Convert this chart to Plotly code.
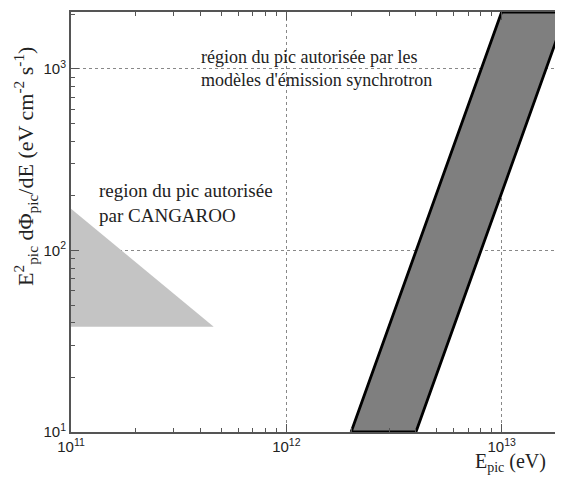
import plotly.graph_objects as go

# CANGAROO allowed region (triangle)
cang_x = [1e11, 1e11, 4.6e11, 1e11]
cang_y = [170, 38, 38, 170]

# synchrotron-model allowed region (parallelogram)
sync_x = [2e12, 4e12, 2e13, 1e13, 2e12]
sync_y = [10, 10, 2060, 2060, 10]

x_tickvals = [1e11, 1e12, 1e13]
x_ticktext = ["10<sup>11</sup>", "10<sup>12</sup>", "10<sup>13</sup>"]
y_tickvals = [10, 100, 1000]
y_ticktext = ["10<sup>1</sup>", "10<sup>2</sup>", "10<sup>3</sup>"]

x_minor = [m * 10 ** e for e in (11, 12, 13) for m in range(2, 10)]
y_minor = [m * 10 ** e for e in (1, 2, 3) for m in range(2, 10)]

serif = "Liberation Serif"
sans = "Liberation Sans"

fig = go.Figure()
fig.add_trace(go.Scatter(x=cang_x, y=cang_y, fill="toself", mode="lines",
                         fillcolor="#c4c4c4", line=dict(width=0, color="#c4c4c4"),
                         showlegend=False, hoverinfo="skip"))
fig.add_trace(go.Scatter(x=sync_x, y=sync_y, fill="toself", mode="lines",
                         fillcolor="#7f7f7f", line=dict(width=2.8, color="black"),
                         showlegend=False, hoverinfo="skip"))


def axis_common(minor_vals):
    return dict(
        showline=True, linecolor="#555555", linewidth=2, mirror="allticks",
        ticks="inside", ticklen=8, tickcolor="#555555", tickwidth=1,
        showgrid=True, gridcolor="#888888", griddash="dot", gridwidth=1,
        zeroline=False, automargin=False,
        tickfont=dict(family=sans, size=15, color="#222"),
        minor=dict(tickmode="array", tickvals=minor_vals, ticks="inside",
                   ticklen=4, tickcolor="#555555", tickwidth=1, showgrid=False),
    )


fig.update_xaxes(type="log", range=[11, 13.285], tickvals=x_tickvals,
                 ticktext=x_ticktext, **axis_common(x_minor))
fig.update_yaxes(type="log", range=[1, 3.314], tickvals=y_tickvals,
                 ticktext=y_ticktext, **axis_common(y_minor))

# annotation positions below are expressed in window pixels (page has an 8px body margin)
def px(xw):
    return (xw - 71) / 492


def py(yw):
    return (432 - yw) / 420


fig.add_annotation(text="région du pic autorisée par les<br>modèles d'émission synchrotron",
                   xref="paper", yref="paper", x=px(199), y=py(45),
                   xanchor="left", yanchor="top", align="left", showarrow=False,
                   font=dict(family=serif, size=18, color="#222"))
fig.add_annotation(text="region du pic autorisée<br>par CANGAROO",
                   xref="paper", yref="paper", x=px(97), y=py(178),
                   xanchor="left", yanchor="top", align="left", showarrow=False,
                   font=dict(family=serif, size=19, color="#222"))
fig.add_annotation(text="E<sup>2</sup><sub>pic</sub> dΦ<sub>pic</sub>/dE (eV cm<sup>-2</sup> s<sup>-1</sup>)",
                   xref="paper", yref="paper", x=px(25), y=py(167),
                   xanchor="center", yanchor="middle", textangle=-90, showarrow=False,
                   font=dict(family=serif, size=22, color="#222"))
fig.add_annotation(text="E<sub>pic</sub> (eV)",
                   xref="paper", yref="paper", x=px(548), y=py(462),
                   xanchor="right", yanchor="middle", showarrow=False,
                   font=dict(family=serif, size=20, color="#222"))

fig.update_layout(width=555, height=469, margin=dict(l=63, r=0, t=4, b=45),
                  plot_bgcolor="white", paper_bgcolor="white")

fig.write_html("out.html")
